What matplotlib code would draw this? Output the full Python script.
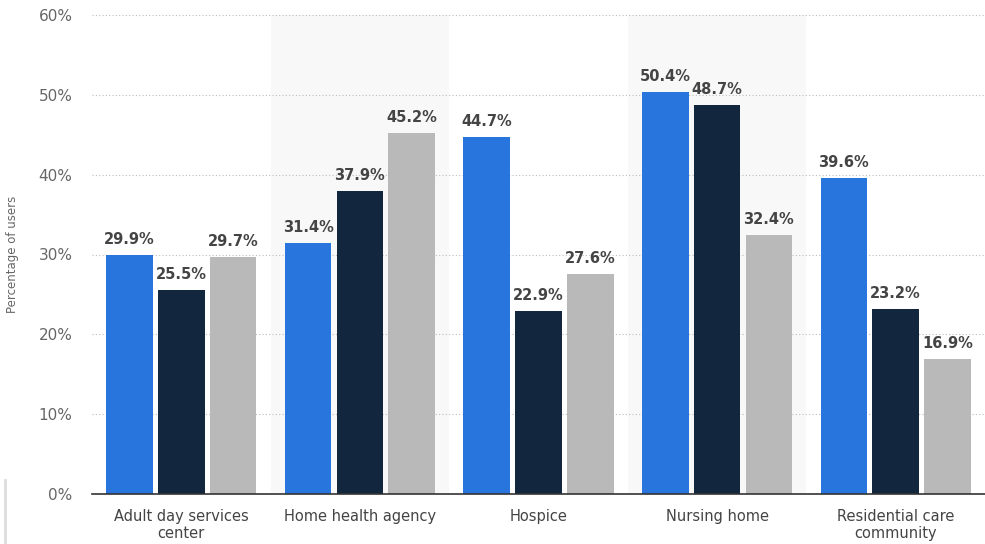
import matplotlib
matplotlib.use("Agg")
import matplotlib.pyplot as plt
from matplotlib.lines import Line2D
import numpy as np

categories = ["Adult day services\ncenter", "Home health agency", "Hospice",
              "Nursing home", "Residential care\ncommunity"]
series_a = [29.9, 31.4, 44.7, 50.4, 39.6]
series_b = [25.5, 37.9, 22.9, 48.7, 23.2]
series_c = [29.7, 45.2, 27.6, 32.4, 16.9]
colors = ["#2876dd", "#12263d", "#b9b9b9"]
yticks = [0, 10, 20, 30, 40, 50, 60]

fig = plt.figure(figsize=(9.85, 5.44), dpi=100)
ax = fig.add_axes([92 / 985, 50 / 544, 893 / 985, 479 / 544])

x = np.arange(len(categories))
width = 0.26
step = 0.29
for i, (vals, col) in enumerate(zip([series_a, series_b, series_c], colors)):
    pos = x + (i - 1) * step
    ax.bar(pos, vals, width=width, color=col, zorder=3)
    for p, v in zip(pos, vals):
        ax.text(p, v + 1.0, f"{v:.1f}%", ha="center", va="bottom",
                fontsize=10.5, fontweight="bold", color="#444444", zorder=4)

# alternating category bands
for i in (1, 3):
    ax.axvspan(i - 0.5, i + 0.5, color="#f8f8f8", zorder=0, lw=0)

ax.set_xlim(-0.5, len(categories) - 0.5)
ax.set_ylim(0, 60)
ax.set_yticks(yticks)
ax.set_yticklabels([f"{t}%" for t in yticks], fontsize=11, color="#666666")
ax.set_xticks(x)
ax.set_xticklabels(categories, fontsize=10.5, color="#444444", linespacing=1.15)
ax.tick_params(axis="both", length=0)
ax.tick_params(axis="y", pad=14)
ax.tick_params(axis="x", pad=11)
ax.yaxis.grid(True, linestyle=(0, (1, 2)), color="#bbbbbb", lw=0.8, zorder=1)
for s in ("top", "right", "left"):
    ax.spines[s].set_visible(False)
ax.spines["bottom"].set_color("#333333")
ax.spines["bottom"].set_linewidth(1.2)
ax.spines["bottom"].set_zorder(5)
ax.set_ylabel("Percentage of users", fontsize=8.5, color="#666666", labelpad=14)

# faint edge line at lower left of the screenshot
fig.add_artist(Line2D([5 / 985, 5 / 985], [0, 64 / 544], color="#dddddd", lw=2))

fig.savefig("out.png", dpi=100)
